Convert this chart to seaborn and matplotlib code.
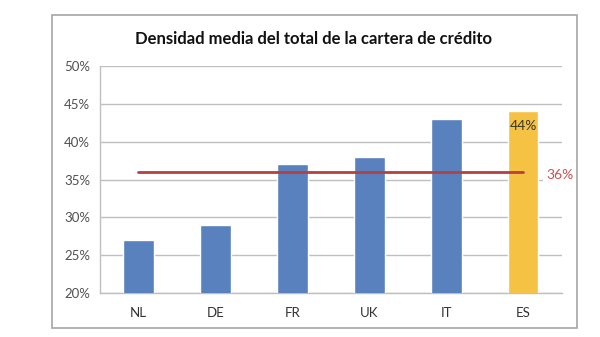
import matplotlib
matplotlib.use("Agg")
import matplotlib.pyplot as plt
from matplotlib.patches import Rectangle
from matplotlib.ticker import FuncFormatter, MultipleLocator
import seaborn as sns
import pandas as pd

countries = ["NL", "DE", "FR", "UK", "IT", "ES"]
density = [27, 29, 37, 38, 43, 44]
average = 36
highlight = "ES"

sns.set_theme(style="white")
plt.rcParams["font.family"] = ["Lato", "DejaVu Sans"]

blue = "#5881BD"
gold = "#F5C243"
df = pd.DataFrame({"country": countries, "density": density})
palette = {c: (gold if c == highlight else blue) for c in countries}

fig = plt.figure(figsize=(6.0, 3.37), dpi=100)
fig.patch.set_facecolor("white")

# outer chart border
fig.patches.append(Rectangle((0.0867, 0.027), 0.875, 0.928, transform=fig.transFigure,
                             fill=False, edgecolor="#A6A6A6", linewidth=1.2, zorder=0))

ax = fig.add_axes([0.1667, 0.1306, 0.7692, 0.6735])
sns.barplot(data=df, x="country", y="density", hue="country", palette=palette,
            width=0.4, legend=False, ax=ax, zorder=3, saturation=1)

ax.set_ylim(20, 50)
ax.set_xlim(-0.5, len(countries) - 0.5)
ax.yaxis.set_major_locator(MultipleLocator(5))
ax.yaxis.set_major_formatter(FuncFormatter(lambda v, p: f"{v:.0f}%"))
ax.grid(axis="y", color="#BFBFBF", linewidth=1.0, zorder=0)
ax.set_axisbelow(True)

for s in ["top", "right"]:
    ax.spines[s].set_visible(False)
for s in ["left", "bottom"]:
    ax.spines[s].set_color("#BFBFBF")
    ax.spines[s].set_linewidth(1.0)

ax.set_xlabel("")
ax.set_ylabel("")
ax.tick_params(axis="y", length=4, color="#BFBFBF", labelsize=9.5, labelcolor="#505050", pad=3)
ax.tick_params(axis="x", length=0, labelsize=9.5, labelcolor="#333333", pad=10)
ax.set_xticks(range(len(countries)))
ax.set_xticks([i - 0.5 for i in range(len(countries) + 1)], minor=True)
ax.tick_params(axis="x", which="minor", length=4, color="#BFBFBF", direction="out")

# average line across category centres
ax.plot([0, len(countries) - 1], [average, average], color="#B5403F", linewidth=2, zorder=4)
ax.annotate(f"{average}%", xy=(1.0, average), xycoords=("axes fraction", "data"),
            xytext=(-11, -2), textcoords="offset points", color="#C9504F",
            fontsize=10, va="center", ha="left", zorder=5, annotation_clip=False,
            bbox=dict(facecolor="white", edgecolor="none", pad=2.0))

# value label inside highlighted bar
hi = countries.index(highlight)
ax.text(hi, density[hi] - 1.2, f"{density[hi]}%", color="#3A3A2A", fontsize=10,
        ha="center", va="top", zorder=5)

fig.text(0.523, 0.885, "Densidad media del total de la cartera de crédito",
         ha="center", va="center", fontsize=12, fontweight="bold", color="#111111")

fig.savefig("out.png", dpi=100, facecolor="white")
